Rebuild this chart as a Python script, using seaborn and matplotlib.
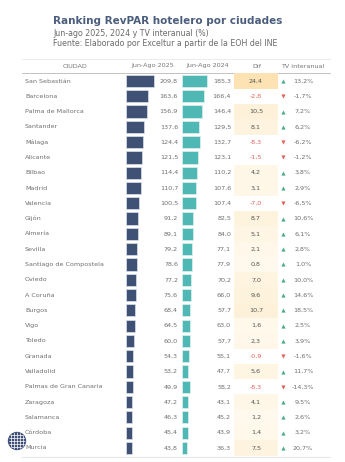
import numpy as np
import pandas as pd
import matplotlib
matplotlib.use("Agg")
import matplotlib.pyplot as plt
import seaborn as sns
from matplotlib.colors import LinearSegmentedColormap
from matplotlib.patches import Circle

# ---- data -------------------------------------------------------------
cities = ["San Sebastián", "Barcelona", "Palma de Mallorca", "Santander", "Málaga",
          "Alicante", "Bilbao", "Madrid", "Valencia", "Gijón", "Almería", "Sevilla",
          "Santiago de Compostela", "Oviedo", "A Coruña", "Burgos", "Vigo", "Toledo",
          "Granada", "Valladolid", "Palmas de Gran Canaria", "Zaragoza", "Salamanca",
          "Córdoba", "Murcia"]
revpar_2025 = [209.8, 163.6, 156.9, 137.6, 124.4, 121.5, 114.4, 110.7, 100.5, 91.2,
               89.1, 79.2, 78.6, 77.2, 75.6, 68.4, 64.5, 60.0, 54.3, 53.2, 49.9, 47.2,
               46.3, 45.4, 43.8]
revpar_2024 = [185.3, 166.4, 146.4, 129.5, 132.7, 123.1, 110.2, 107.6, 107.4, 82.5,
               84.0, 77.1, 77.9, 70.2, 66.0, 57.7, 63.0, 57.7, 55.1, 47.7, 58.2, 43.1,
               45.2, 43.9, 36.3]
dif = [24.4, -2.8, 10.5, 8.1, -8.3, -1.5, 4.2, 3.1, -7.0, 8.7, 5.1, 2.1, 0.8, 7.0,
       9.6, 10.7, 1.6, 2.3, -0.9, 5.6, -8.3, 4.1, 1.2, 1.4, 7.5]
tv_interanual = [13.2, -1.7, 7.2, 6.2, -6.2, -1.2, 3.8, 2.9, -6.5, 10.6, 6.1, 2.8, 1.0,
                 10.0, 14.6, 18.5, 2.5, 3.9, -1.6, 11.7, -14.3, 9.5, 2.6, 3.2, 20.7]
headers = ["CIUDAD", "Jun-Ago 2025", "Jun-Ago 2024", "Dif", "TV interanual"]

title = "Ranking RevPAR hotelero por ciudades"
subtitle = "Jun-ago 2025, 2024 y TV interanual (%)"
source = "Fuente: Elaborado por Exceltur a partir de la EOH del INE"

# ---- layout helpers ---------------------------------------------------
W, H = 345, 462
sns.set_theme(style="white")
plt.rcParams["font.family"] = ["DejaVu Sans"]

fig = plt.figure(figsize=(W / 100, H / 100), dpi=100)
fig.patch.set_facecolor("white")


def px_axes(x0, y0, x1, y1, z=1):
    ax = fig.add_axes([x0 / W, 1 - y1 / H, (x1 - x0) / W, (y1 - y0) / H], zorder=z)
    ax.set_facecolor("none")
    return ax


def fmt(v, dec=1):
    return f"{v:.{dec}f}".replace(".", ",")


n = len(cities)
row0, step = 81.0, 15.29
top = row0 - step / 2
bottom = row0 + (n - 0.5) * step

TXT = "#6f6f6f"
NAVY = "#3f5275"
TEAL = "#4fb8b5"
RED = "#e2625a"
GREEN = "#4ea88e"

# ---- bars -------------------------------------------------------------
px_per_unit = 0.134
xmax = 235
df = pd.DataFrame({"city": cities, "y2025": revpar_2025, "y2024": revpar_2024})

ax25 = px_axes(126, top, 126 + px_per_unit * xmax, bottom, z=2)
sns.barplot(data=df, x="y2025", y="city", orient="h", color=NAVY, saturation=1,
            width=0.8, edgecolor="#dce2ea", linewidth=0.5, ax=ax25)
ax25.set_xlim(0, xmax)
ax25.set_axis_off()

ax24 = px_axes(182, top, 182 + px_per_unit * xmax, bottom, z=2)
sns.barplot(data=df, x="y2024", y="city", orient="h", color=TEAL, saturation=1,
            width=0.8, edgecolor="#dff1f0", linewidth=0.5, ax=ax24)
ax24.set_xlim(0, xmax)
ax24.set_axis_off()

# ---- Dif column shaded as a one-column heatmap ------------------------
axd = px_axes(234, top, 278, bottom, z=1)
cmap = LinearSegmentedColormap.from_list("dif", ["#fff9ee", "#fdf0d6", "#fde3b4"])
cmap.set_under("white")
sns.heatmap(pd.DataFrame({"Dif": dif}, index=cities), cmap=cmap, vmin=0.0, vmax=max(dif),
            cbar=False, annot=False, linewidths=0, ax=axd)
axd.set_axis_off()

# ---- overlay with text, arrows, rules ---------------------------------
ov = px_axes(0, top, W, bottom, z=3)
ov.set_xlim(0, W)
ov.set_ylim(n - 0.5, -0.5)
ov.set_axis_off()

fs = 4.6
for i in range(n):
    ov.text(25, i, cities[i], ha="left", va="center", fontsize=fs, color=TXT)
    ov.text(178, i, fmt(revpar_2025[i]), ha="right", va="center", fontsize=fs, color=TXT)
    ov.text(231, i, fmt(revpar_2024[i]), ha="right", va="center", fontsize=fs, color=TXT)
    ov.text(256, i, fmt(dif[i]), ha="center", va="center", fontsize=fs,
            color=RED if dif[i] < 0 else "#555555")
    ov.text(303, i, fmt(tv_interanual[i]) + "%", ha="center", va="center",
            fontsize=fs, color=TXT)

ups = [i for i in range(n) if tv_interanual[i] >= 0]
downs = [i for i in range(n) if tv_interanual[i] < 0]
ov.scatter([283] * len(ups), ups, marker="^", s=9, color=GREEN, linewidths=0)
ov.scatter([283] * len(downs), downs, marker="v", s=9, color=RED, linewidths=0)

# ---- figure-level decorations (pixel coordinates) ---------------------
deco = fig.add_axes([0, 0, 1, 1], zorder=0)
deco.set_xlim(0, W)
deco.set_ylim(H, 0)
deco.set_axis_off()

deco.text(53, 21, title, fontsize=7.5, fontweight="bold", color="#4b5d7c",
          ha="left", va="center")
deco.text(53, 33, subtitle, fontsize=5.7, color="#6a6a6a", ha="left", va="center")
deco.text(53, 43.5, source, fontsize=5.7, color="#6a6a6a", ha="left", va="center")

header_x = [75, 153, 208, 257, 303]
for hx, h in zip(header_x, headers):
    deco.text(hx, 66, h, fontsize=fs, color="#777777", ha="center", va="center")

deco.plot([22, 330], [59, 59], color="#e8e8e8", lw=0.6)
deco.plot([22, 330], [73, 73], color="#b8b8b8", lw=0.6)
deco.plot([22, 330], [457, 457], color="#e6e6e6", lw=0.8)

# logo: small globe in the bottom-left corner
logo = fig.add_axes([0, 0, 1, 1], zorder=4)
logo.set_xlim(0, W)
logo.set_ylim(H, 0)
logo.set_axis_off()
logo.set_facecolor("none")
globe = Circle((17, 441), 8.5, color="#3e5078")
logo.add_patch(globe)
for k in np.linspace(-6, 6, 5):
    l1, = logo.plot([9, 26], [441 + k, 441 + k], color="white", lw=0.5)
    l2, = logo.plot([17 + k, 17 + k], [432, 450], color="white", lw=0.5)
    l1.set_clip_path(globe)
    l2.set_clip_path(globe)

fig.savefig("out.png", dpi=100, facecolor="white")
